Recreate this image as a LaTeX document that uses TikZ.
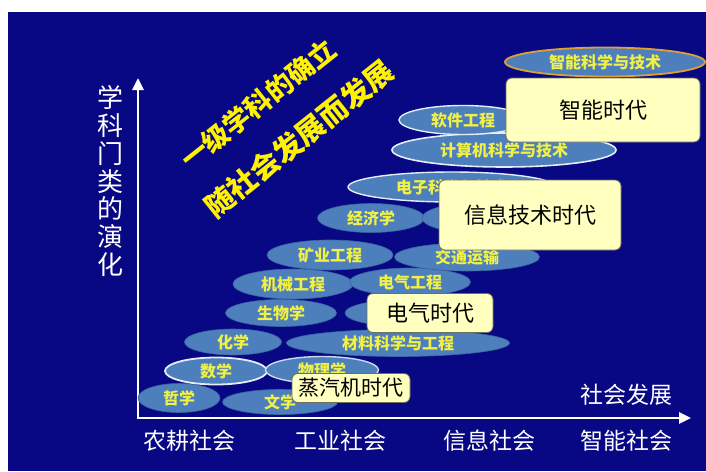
\documentclass[tikz,border=0pt]{standalone}
\usepackage{fontspec}
\setmainfont{Noto Sans CJK SC}
\usetikzlibrary{shapes.geometric,arrows.meta}
\definecolor{bgblue}{RGB}{8,8,132}
\definecolor{ellfill}{RGB}{77,127,189}
\definecolor{ellline}{RGB}{60,100,160}
\definecolor{elltext}{RGB}{240,240,70}
\definecolor{boxfill}{RGB}{255,255,192}
\definecolor{boxline}{RGB}{110,110,90}
\definecolor{goldline}{RGB}{222,160,50}
\tikzset{
  ell/.style={ellipse, fill=ellfill, draw=ellline, line width=0.6pt, inner sep=0pt,
    text=elltext, font=\fontsize{16}{16}\selectfont\bfseries},
  lightrim/.style={draw=white!85!ellfill, line width=1.8pt},
  era/.style={rectangle, rounded corners=6pt, fill=boxfill, draw=boxline, line width=0.8pt,
    inner sep=0pt, text=black, font=\fontsize{22}{22}\selectfont},
  axislabel/.style={text=white, font=\fontsize{23}{23}\selectfont, inner sep=0pt},
  diag/.style={text=yellow, font=\fontsize{27}{27}\selectfont\bfseries, rotate=38.5, inner sep=0pt},
  axisline/.style={white, line width=2.8pt, -{Triangle[width=11pt,length=12pt]}}
}
\begin{document}
\begin{tikzpicture}[x=1pt,y=-1pt]
\useasboundingbox (0,0) rectangle (706,471);
\fill[white] (0,0) rectangle (706,471);
\fill[bgblue] (8,12) rectangle (706,471);

% axes
\coordinate (origin) at (138,418);
\coordinate (ytip) at (138,78);
\coordinate (xtip) at (691,418);
\draw[axisline] ([yshift=1.4pt]origin) -- (ytip);
\draw[axisline] ([xshift=-1.4pt]origin) -- (xtip);

% axis labels
\node[text=white, font=\fontsize{26}{27.7}\selectfont, align=center, inner sep=0pt] (ylab) at (110,181) {学\\科\\门\\类\\的\\演\\化};
\node[axislabel] (x1) at (189,441) {农耕社会};
\node[axislabel] (x2) at (340,441) {工业社会};
\node[axislabel] (x3) at (489,441) {信息社会};
\node[axislabel] (x4) at (626,441) {智能社会};
\node[axislabel] (xlab) at (626,395) {社会发展};

% diagonal slogan
\node[diag] (d1) at (258,104) {一级学科的确立};
\node[diag, font=\fontsize{29}{29}\selectfont\bfseries] (d2) at (299,139) {随社会发展而发展};

% ellipses, bottom row first
\node[ell, minimum width=82, minimum height=29] (zhexue) at (179,398) {哲学};
\node[ell, minimum width=115, minimum height=25] (wenxue) at (280,402) {文学};
\node[ell, lightrim, minimum width=102, minimum height=27] (shuxue) at (216,371) {数学};
\node[ell, draw=white!70!ellfill, line width=1.4pt, minimum width=113, minimum height=27] (wuli) at (322,370) {物理学};
\node[ell, minimum width=97, minimum height=26] (huaxue) at (233,342) {化学};
\node[ell, minimum width=223, minimum height=27] (cailiao) at (398,343) {材料科学与工程};
\node[ell, minimum width=111, minimum height=27] (shengwu) at (281,313) {生物学};
\node[ell, minimum width=120, minimum height=27] (hidden1) at (405,313) {};
\node[ell, minimum width=120, minimum height=30] (jixie) at (293,284) {机械工程};
\node[ell, minimum width=121, minimum height=28] (dianqi) at (410,282) {电气工程};
\node[ell, minimum width=126, minimum height=30] (kuangye) at (330,255) {矿业工程};
\node[ell, minimum width=145, minimum height=28] (jiaotong) at (467,257) {交通运输};
\node[ell, minimum width=107, minimum height=29] (jingji) at (371,218) {经济学};
\node[ell, minimum width=100, minimum height=29] (hidden2) at (472,218) {};
\node[ell, lightrim, line width=1.4pt, minimum width=208, minimum height=30] (dianzi) at (452,187) {电子科学与技术};
\node[ell, lightrim, line width=1.6pt, minimum width=224, minimum height=34] (jisuanji) at (504,150) {计算机科学与技术};
\node[ell, lightrim, line width=1.4pt, minimum width=128, minimum height=29] (ruanjian) at (463,120) {软件工程};
\node[ell, draw=goldline, line width=1.8pt, minimum width=200, minimum height=29] (zhineng) at (605,62) {智能科学与技术};

% era boxes
\node[era, minimum width=118, minimum height=29, font=\fontsize{21}{21}\selectfont] (steam) at (351,388) {蒸汽机时代};
\node[era, minimum width=126, minimum height=39] (electric) at (430,313) {电气时代};
\node[era, minimum width=182, minimum height=70] (info) at (530,215) {信息技术时代};
\node[era, minimum width=194, minimum height=64] (ai) at (603,110) {智能时代};
\end{tikzpicture}
\end{document}
